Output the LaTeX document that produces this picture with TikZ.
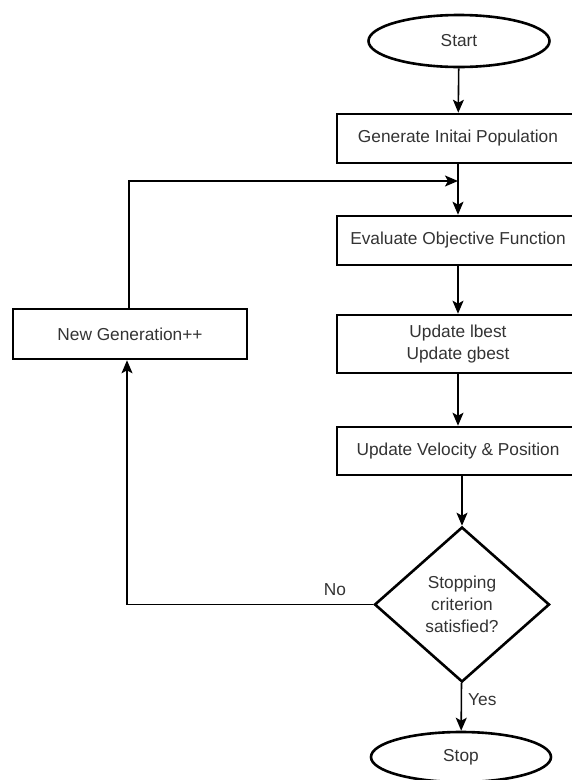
\documentclass[tikz,border=0pt]{standalone}
\usepackage{fontspec}
\setmainfont{Liberation Sans}
\usetikzlibrary{shapes.geometric,arrows.meta}
\begin{document}
\begin{tikzpicture}[x=1pt,y=-1pt,
  every node/.style={font=\fontsize{17.3}{22}\selectfont, text=black!80},
  procbox/.style={draw=black, line width=2.6pt, rectangle, minimum width=242pt, inner sep=2pt, align=center},
  termbox/.style={draw=black, line width=2.6pt, ellipse, inner sep=0pt},
  decbox/.style={draw=black, line width=2.6pt, diamond, aspect=1.13, minimum width=175pt, minimum height=155pt, inner sep=0pt, align=center},
  conn/.style={draw=black, line width=1.6pt, -{Stealth[length=13pt,width=11pt,inset=3pt]}},
  plain/.style={draw=black, line width=1.6pt},
  lbl/.style={inner sep=0pt}]
\useasboundingbox (0,0) rectangle (572,780);
\node[termbox, minimum width=181pt, minimum height=52pt] (start) at (459,41) {Start};
\node[procbox, minimum height=49pt] (gen) at (458,138.5) {Generate Initai Population};
\node[procbox, minimum height=49pt] (eval) at (458,240.5) {Evaluate Objective Function};
\node[procbox, minimum height=58pt] (upd) at (458,344) {Update lbest\\Update gbest};
\node[procbox, minimum height=48pt] (vel) at (458,451) {Update Velocity \& Position};
\node[decbox] (dec) at (462,604.5) {Stopping\\criterion\\satisfied?};
\node[termbox, minimum width=180pt, minimum height=50pt] (stop) at (461,757) {Stop};
\node[procbox, minimum width=234pt, minimum height=50pt] (newg) at (130,334) {New Generation++};
\coordinate (merge) at (458,181);
\coordinate (corner) at (127,604.5);
\coordinate (top) at (129,181);
\draw[conn] (start) -- (gen);
\draw[conn] (gen) -- (eval);
\draw[conn] (eval) -- (upd);
\draw[conn] (upd) -- (vel);
\draw[conn] (dec.north |- vel.south) -- (dec.north);
\draw[conn] (dec) -- node[lbl, right=6pt, pos=0.35] {Yes} (stop);
\draw[conn] (dec.west) -- (corner) -- (corner |- newg.south);
\node[lbl] (no) at (335,590) {No};
\draw[conn] (newg.north -| top) -- (top) -- (merge);
\end{tikzpicture}
\end{document}
